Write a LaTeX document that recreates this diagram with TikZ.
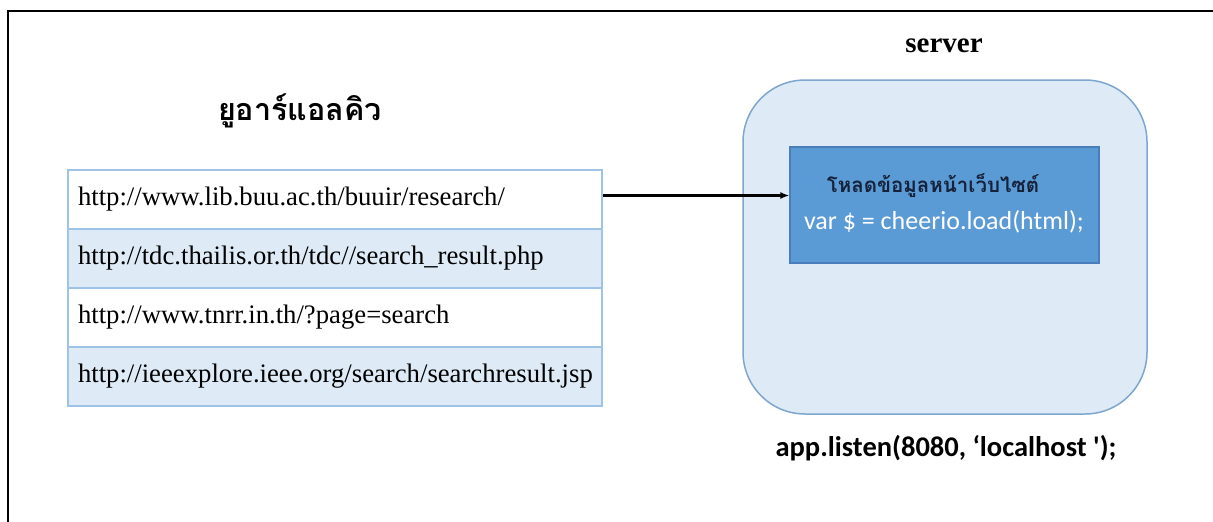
\documentclass[tikz,border=0pt]{standalone}
\usepackage{fontspec}
\setmainfont{Liberation Serif}
\newfontfamily\thaifont[Script=Thai]{Loma}
\newfontfamily\calfont{Carlito}
\usetikzlibrary{arrows.meta}

\definecolor{paleblue}{HTML}{DEEBF7}
\definecolor{rowline}{HTML}{9DC3E6}
\definecolor{serverline}{HTML}{7EA6CF}
\definecolor{midblue}{HTML}{5B9BD5}
\definecolor{midline}{HTML}{4A7EBB}
\definecolor{thaiink}{HTML}{16213A}

\tikzset{
  urlrow/.style={draw=rowline, line width=1.5pt, minimum height=59pt,
    text width=514pt, inner xsep=10pt, align=left,
    font=\fontsize{26.7}{30}\selectfont},
  servbox/.style={draw=serverline, fill=paleblue, line width=1.5pt,
    rounded corners=62pt, minimum width=404pt, minimum height=334pt},
  loadbox/.style={draw=midline, fill=midblue, line width=1.2pt,
    minimum width=309pt, minimum height=116pt},
  link/.style={-{Latex[length=9pt,width=7pt]}, line width=2.2pt}
}

\begin{document}
\begin{tikzpicture}[x=1pt,y=-1pt]
\useasboundingbox (0,0) rectangle (1213,522);

% frame
\draw[line width=2pt] (8,522) -- (8,11) -- (1213,11);

% list of URLs
\node[font=\thaifont\bfseries\fontsize{30.5}{34}\selectfont] (title) at (300,111) {ยูอาร์แอลคิว};
\node[urlrow, fill=white]    (r1) at (335,199.5) {http://www.lib.buu.ac.th/buuir/research/};
\node[urlrow, fill=paleblue] (r2) at (335,258.5) {http://tdc.thailis.or.th/tdc//search\_result.php};
\node[urlrow, fill=white]    (r3) at (335,317.5) {http://www.tnrr.in.th/?page=search};
\node[urlrow, fill=paleblue] (r4) at (335,376.5) {http://ieeexplore.ieee.org/search/searchresult.jsp};

% server
\node[font=\bfseries\fontsize{29}{32}\selectfont] (srvlabel) at (944,46) {server};
\node[servbox] (server) at (945,247) {};
\node[loadbox] (load) at (944.5,205) {};
\node[font=\thaifont\bfseries\fontsize{20.5}{24}\selectfont, text=thaiink] (loadth) at (933,186) {โหลดข้อมูลหน้าเว็บไซต์};
\node[font=\calfont\fontsize{26}{30}\selectfont, text=white] (loadjs) at (944,222) {var \$ = cheerio.load(html);};
\node[font=\calfont\bfseries\fontsize{28.5}{32}\selectfont] (listen) at (946,448) {app.listen(8080, ‘localhost {\char"0027});};

% request arrow
\draw[link] ([yshift=4pt]r1.east) -- ([yshift=4pt]r1.east -| load.west);
\end{tikzpicture}
\end{document}
